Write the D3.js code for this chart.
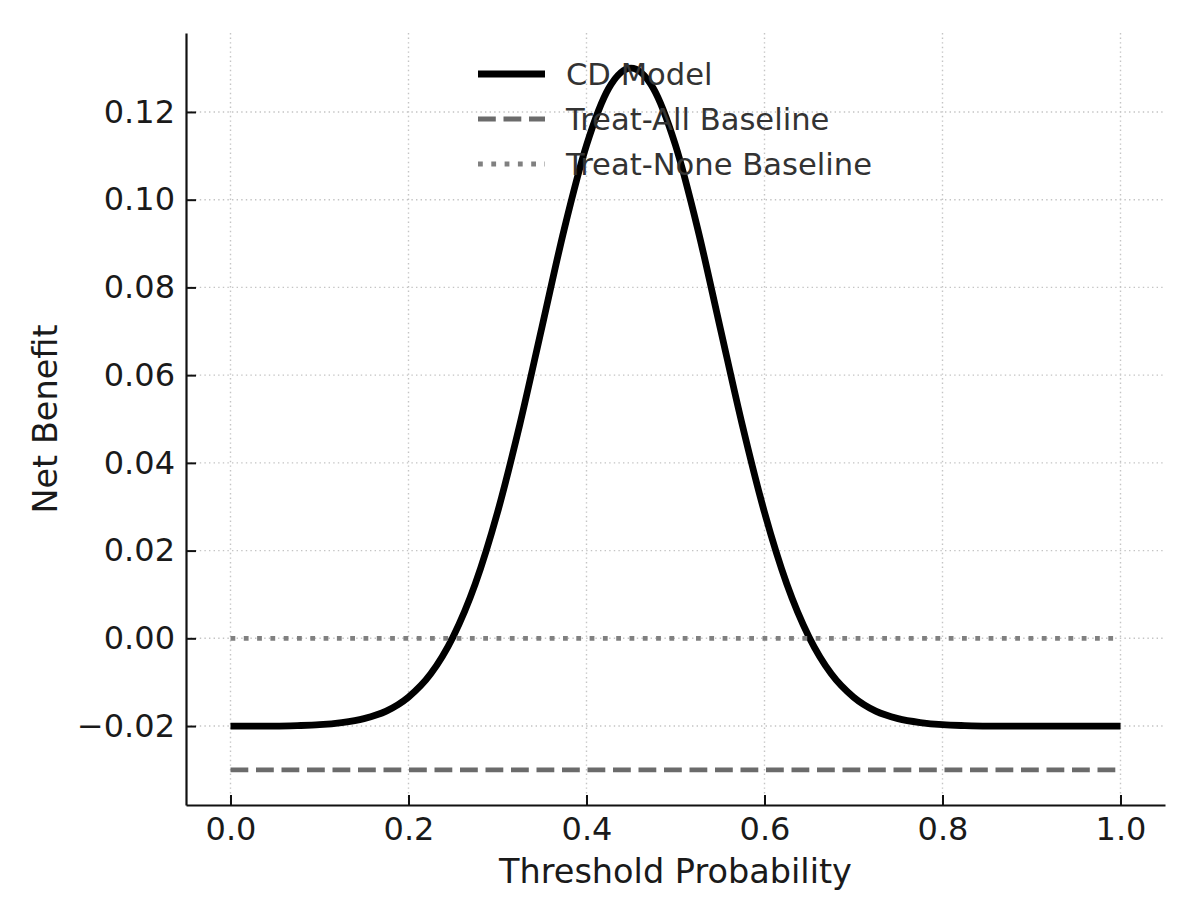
<!DOCTYPE html>
<html>
<head>
<meta charset="utf-8">
<script src="https://cdn.jsdelivr.net/npm/d3@7"></script>
<style>
    body { margin: 0; background: #ffffff; }
    text { font-family: 'DejaVu Sans', sans-serif; }
</style>
</head>
<body>
<div id="graph"></div>
<script>
// The data...
var thresholds = [ 0.000, 0.025, 0.050, 0.075, 0.100, 0.125, 0.150, 0.175, 0.200, 0.225,
                   0.250, 0.275, 0.300, 0.325, 0.350, 0.375, 0.400, 0.425, 0.450, 0.475,
                   0.500, 0.525, 0.550, 0.575, 0.600, 0.625, 0.650, 0.675, 0.700, 0.725,
                   0.750, 0.775, 0.800, 0.825, 0.850, 0.875, 0.900, 0.925, 0.950, 0.975, 1.000 ];

var cdModel    = [ -0.0200, -0.0200, -0.0200, -0.0199, -0.0197, -0.0192, -0.0183, -0.0166, -0.0134, -0.0081,
                    0.0003,  0.0124,  0.0287,  0.0487,  0.0710,  0.0933,  0.1124,  0.1254,  0.1300,  0.1254,
                    0.1124,  0.0933,  0.0710,  0.0487,  0.0287,  0.0124,  0.0003, -0.0081, -0.0134, -0.0166,
                   -0.0183, -0.0192, -0.0197, -0.0199, -0.0200, -0.0200, -0.0200, -0.0200, -0.0200, -0.0200, -0.0200 ];

var baselineX  = [ 0.0, 1.0 ];
var treatAll   = [ -0.03, -0.03 ];
var treatNone  = [ 0.0, 0.0 ];

var xTicks = [ 0.0, 0.2, 0.4, 0.6, 0.8, 1.0 ];
var yTicks = [ -0.02, 0.00, 0.02, 0.04, 0.06, 0.08, 0.10, 0.12 ];

var seriesNames = [ 'CD Model', 'Treat-All Baseline', 'Treat-None Baseline' ];


// SVG size and the plot area
var margin = {
        top:    33,
        right:  35,
        bottom: 118,
        left:   186
};

var width  = 1200 - margin.left - margin.right;
var height = 923 - margin.top - margin.bottom;

// line styles for each series
var styles = [
    { colour: '#000000', width: 6.8, dash: null },
    { colour: '#6b6b6b', width: 4.8, dash: '17.8,7.7' },
    { colour: '#808080', width: 4.8, dash: '4.8,8.5' }
];

var svg = d3.select ('#graph').append ('svg')
            .attr ('width',  width + margin.left + margin.right)
            .attr ('height', height + margin.top + margin.bottom)
            .append ('g')
            .attr ('transform', 'translate(' + margin.left + ',' + margin.top + ')');

var xScale = d3.scaleLinear ()
               .domain ( [ -0.05, 1.05 ] )
               .range ( [ 0, width ] );

var yScale = d3.scaleLinear ()
               .domain ( [ -0.038, 0.138 ] )
               .range ( [ height, 0 ] );

// dotted grid
svg.append ('g')
   .selectAll ('line')
   .data (xTicks)
   .enter ()
   .append ('line')
   .attr ('x1', function (d) { return xScale (d); })
   .attr ('x2', function (d) { return xScale (d); })
   .attr ('y1', 0)
   .attr ('y2', height)
   .attr ('stroke', '#c4c4c4')
   .attr ('stroke-width', 1.4)
   .attr ('stroke-dasharray', '1.4,3.2');

svg.append ('g')
   .selectAll ('line')
   .data (yTicks)
   .enter ()
   .append ('line')
   .attr ('x1', 0)
   .attr ('x2', width)
   .attr ('y1', function (d) { return yScale (d); })
   .attr ('y2', function (d) { return yScale (d); })
   .attr ('stroke', '#c4c4c4')
   .attr ('stroke-width', 1.4)
   .attr ('stroke-dasharray', '1.4,3.2');

// the lines
var line = d3.line ()
             .x (function (d) { return xScale (d[0]); })
             .y (function (d) { return yScale (d[1]); });

var series = [
    d3.zip (thresholds, cdModel),
    d3.zip (baselineX, treatAll),
    d3.zip (baselineX, treatNone)
];

for (var i = 0; i < series.length; i++)
{
    svg.append ('path')
       .datum (series[i])
       .attr ('d', line.curve (i == 0 ? d3.curveMonotoneX : d3.curveLinear))
       .attr ('fill', 'none')
       .attr ('stroke', styles[i].colour)
       .attr ('stroke-width', styles[i].width)
       .attr ('stroke-dasharray', styles[i].dash);
}

// axes, ticks point inwards
var fmt = d3.format ('.2f');

var xAxis = d3.axisBottom ()
              .scale (xScale)
              .tickValues (xTicks)
              .tickSizeInner (-10)
              .tickSizeOuter (0)
              .tickPadding (12)
              .tickFormat (d3.format ('.1f'));

var yAxis = d3.axisLeft ()
              .scale (yScale)
              .tickValues (yTicks)
              .tickSizeInner (-10)
              .tickSizeOuter (0)
              .tickPadding (11)
              .tickFormat (fmt);

var gx = svg.append ('g')
            .attr ('transform', 'translate(0,' + height + ')')
            .call (xAxis);

var gy = svg.append ('g')
            .call (yAxis);

[ gx, gy ].forEach (function (g)
{
    g.select ('.domain').attr ('stroke', '#111').attr ('stroke-width', 2.2);
    g.selectAll ('.tick line').attr ('stroke', '#111').attr ('stroke-width', 2);
    g.selectAll ('.tick text')
     .attr ('fill', '#1a1a1a')
     .style ('font-size', '32px')
     .style ('font-family', 'DejaVu Sans, sans-serif');
});

// axis titles
svg.append ('text')
   .attr ('x', width / 2)
   .attr ('y', height + 78)
   .attr ('text-anchor', 'middle')
   .attr ('fill', '#1a1a1a')
   .style ('font-size', '33.5px')
   .text ('Threshold Probability');

svg.append ('text')
   .attr ('transform', 'translate(' + (57 - margin.left) + ',' + (height / 2) + ') rotate(-90)')
   .attr ('text-anchor', 'middle')
   .attr ('fill', '#1a1a1a')
   .style ('font-size', '33.5px')
   .text ('Net Benefit');

// legend, no frame
var legend = svg.append ('g')
                .attr ('transform', 'translate(' + (478 - margin.left) + ',' + (74 - margin.top) + ')');

for (var i = 0; i < seriesNames.length; i++)
{
    legend.append ('line')
          .attr ('x1', 0)
          .attr ('x2', 67)
          .attr ('y1', i * 45)
          .attr ('y2', i * 45)
          .attr ('stroke', styles[i].colour)
          .attr ('stroke-width', styles[i].width)
          .attr ('stroke-dasharray', styles[i].dash);

    legend.append ('text')
          .attr ('x', 88)
          .attr ('y', i * 45)
          .attr ('dy', '0.36em')
          .attr ('fill', '#333333')
          .style ('font-size', '30.6px')
          .text (seriesNames[i]);
}
</script>
</body>
</html>
